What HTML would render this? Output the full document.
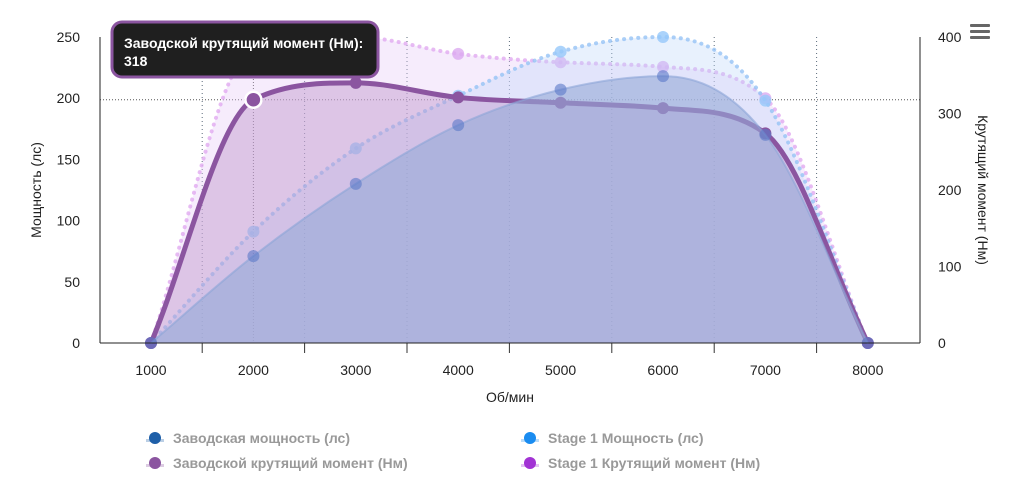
<!DOCTYPE html>
<html><head><meta charset="utf-8"><style>
body{margin:0;background:#fff;font-family:"Liberation Sans","Noto Sans CJK SC",sans-serif;}
svg text{font-family:"Liberation Sans","Noto Sans CJK SC",sans-serif;}
</style></head><body>
<svg id="chart" width="1030" height="479" xmlns="http://www.w3.org/2000/svg">
<g id="grid"></g>
<g id="series"></g>
<g id="axes"></g>
<text x="510" y="402" font-size="14" text-anchor="middle" fill="#222">Об/мин</text>
<text transform="translate(41,190) rotate(-90)" font-size="14" text-anchor="middle" fill="#222">Мощность (лс)</text>
<text transform="translate(978,190) rotate(90)" font-size="14" text-anchor="middle" fill="#222">Крутящий момент (Нм)</text>
<g fill="#666"><rect x="970" y="24" width="20" height="3" rx="1"/><rect x="970" y="30" width="20" height="3" rx="1"/><rect x="970" y="36" width="20" height="3" rx="1"/></g>
<g id="legend"></g>
<g id="tooltip">
<rect x="112" y="22" width="266" height="55" rx="10" fill="#1f1f1f" stroke="#8b55a0" stroke-width="3"/>
<text x="124" y="48" font-size="14" font-weight="bold" fill="#fff">Заводской крутящий момент (Нм):</text>
<text x="124" y="66" font-size="14" font-weight="bold" fill="#fff">318</text>
</g>
</svg>
<script>
const rpm=[1000,2000,3000,4000,5000,6000,7000,8000];
const factoryPower=[0,71,130,178,207,218,170,0];
const stagePower=[0,91,159,202,238,250,198,0];
const factoryTorque=[0,318,340,321,314,307,274,0];
const stageTorque=[0,385,400,378,367,361,320,0];
const xTicks=[1000,2000,3000,4000,5000,6000,7000,8000];
const leftTicks=[0,50,100,150,200,250];
const rightTicks=[0,100,200,300,400];
const NS="http://www.w3.org/2000/svg";
const X=v=>151+(v-1000)*0.1024;
const YL=v=>343-v*306/250;
const YR=v=>343-v*306/400;
function mk(tag,attrs,parent){const e=document.createElementNS(NS,tag);for(const k in attrs)e.setAttribute(k,attrs[k]);parent.appendChild(e);return e;}
const grid=document.getElementById('grid'),axes=document.getElementById('axes'),ser=document.getElementById('series'),leg=document.getElementById('legend');
for(let r=1500;r<=7500;r+=1000){
 const l=mk('line',{x1:X(r),x2:X(r),y1:37,y2:343,stroke:'#5a6a7a','stroke-width':1,'stroke-dasharray':'1,3'},grid);
 
 
 const t=mk('line',{x1:X(r),x2:X(r),y1:343,y2:353,stroke:'#333','stroke-width':1},axes);
 
 
}
function spline(xs,ys){
 const n=xs.length,dx=[],s=[],m=[];
 for(let i=0;i<n-1;i++){dx[i]=xs[i+1]-xs[i];s[i]=(ys[i+1]-ys[i])/dx[i];}
 m[0]=s[0];m[n-1]=s[n-2];
 for(let i=1;i<n-1;i++){m[i]=(s[i-1]*s[i]<=0)?0:(s[i-1]+s[i])/2;}
 for(let i=0;i<n-1;i++){if(s[i]===0){m[i]=0;m[i+1]=0;continue;}const a=m[i]/s[i],b=m[i+1]/s[i],h=a*a+b*b;if(h>9){const t=3/Math.sqrt(h);m[i]=t*a*s[i];m[i+1]=t*b*s[i];}}
 let d='M'+xs[0]+','+ys[0];
 for(let i=0;i<n-1;i++){const h=dx[i]/3;d+=' C'+(xs[i]+h)+','+(ys[i]+m[i]*h)+' '+(xs[i+1]-h)+','+(ys[i+1]-m[i+1]*h)+' '+xs[i+1]+','+ys[i+1];}
 return d;}
function series(vals,Y,fill,stroke,width,dash,dot,name){
 const xs=rpm.map(X),ys=vals.map(Y);const d=spline(xs,ys);
 const a=mk('path',{d:d+' L'+xs[xs.length-1]+',343 L'+xs[0]+',343 Z',fill:fill,stroke:'none'},ser);
 
 
 const l=mk('path',{d:d,fill:'none',stroke:stroke,'stroke-width':width,'stroke-dasharray':dash,'stroke-linecap':'round'},ser);
 
 
 xs.forEach((x,i)=>{const c=mk('circle',{cx:x,cy:ys[i],r:6,fill:dot},ser);
 
 });
}
series(stageTorque,YR,'rgba(230,200,245,0.35)','rgba(225,170,240,0.8)',4,'0.1,7','rgba(220,170,240,0.8)','stage1-torque');
series(stagePower,YL,'rgba(190,215,250,0.35)','rgba(150,195,245,0.8)',4,'0.1,7','rgba(150,200,250,0.8)','stage1-power');
series(factoryTorque,YR,'rgba(190,150,205,0.45)','#8b55a0',5,'','#8b55a0','factory-torque');
series(factoryPower,YL,'rgba(150,170,215,0.6)','rgba(140,165,215,0.6)',2,'','rgba(90,120,200,0.6)','factory-power');
const hl=mk('line',{x1:100,x2:920,y1:YR(318),y2:YR(318),stroke:'#555','stroke-width':1,'stroke-dasharray':'1,2'},grid);


const vl=mk('line',{x1:X(2000),x2:X(2000),y1:37,y2:343,stroke:'#555','stroke-width':1,'stroke-dasharray':'1,2'},grid);


const hp=mk('circle',{cx:X(2000),cy:YR(318),r:8,fill:'#8b55a0',stroke:'#fff','stroke-width':2.5},ser);


[[100,37,100,343],[920,37,920,343],[100,343,920,343]].forEach(p=>{const l=mk('line',{x1:p[0],y1:p[1],x2:p[2],y2:p[3],stroke:'#222','stroke-width':1},axes);
 
 });
xTicks.forEach(v=>{const t=mk('text',{x:X(v),y:375,'font-size':14,'text-anchor':'middle',fill:'#222'},axes);t.textContent=v;
 
 });
leftTicks.forEach(v=>{const t=mk('text',{x:80,y:YL(v)+5,'font-size':14,'text-anchor':'end',fill:'#222'},axes);t.textContent=v;
 
 });
rightTicks.forEach(v=>{const t=mk('text',{x:938,y:YR(v)+5,'font-size':14,fill:'#222'},axes);t.textContent=v;
 
 });
const legItems=[['Заводская мощность (лс)','#1e5fa8',155,438],['Stage 1 Мощность (лс)','#1a8cf0',530,438],['Заводской крутящий момент (Нм)','#8b55a0',155,463],['Stage 1 Крутящий момент (Нм)','#a233d4',530,463]];
legItems.forEach(it=>{const g=mk('g',{},leg);
 
 
 mk('rect',{x:it[2]-9,y:it[3]+1,width:18,height:3,fill:it[1],opacity:0.3},g);
 mk('circle',{cx:it[2],cy:it[3],r:6,fill:it[1]},g);
 const t=mk('text',{x:it[2]+18,y:it[3]+5,'font-size':14,'font-weight':'bold',fill:'#999'},g);t.textContent=it[0];});
</script>
</body></html>
